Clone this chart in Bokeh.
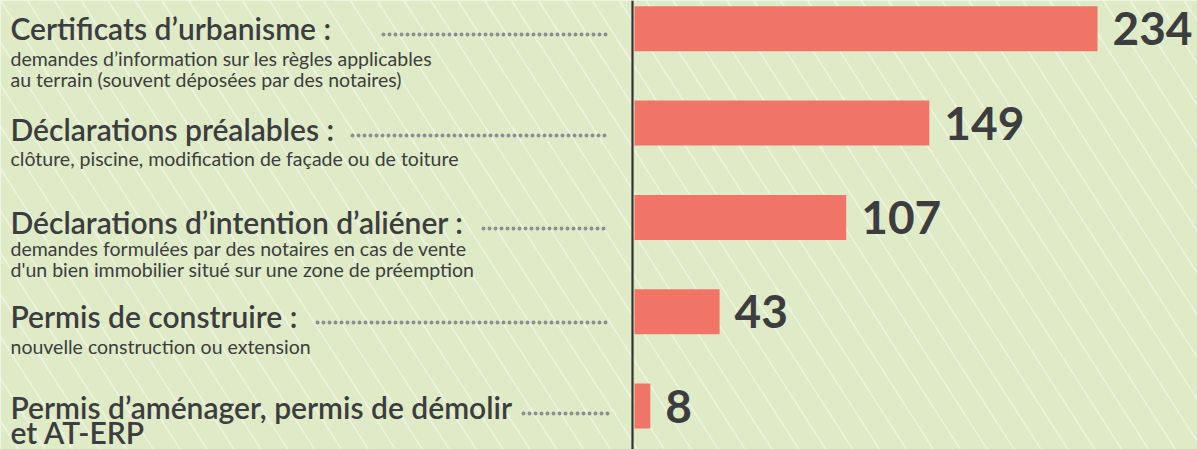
import numpy as np
from bokeh.plotting import figure
from bokeh.models import Range1d
from bokeh.embed import file_html
from bokeh.resources import INLINE
from bokeh.core.properties import value

# ---------------- data ----------------
categories = [
    "Certificats d’urbanisme :",
    "Déclarations préalables :",
    "Déclarations d’intention d’aliéner :",
    "Permis de construire :",
    "Permis d’aménager, permis de démolir\net AT-ERP",
]
descriptions = [
    "demandes d’information sur les règles applicables\nau terrain (souvent déposées par des notaires)",
    "clôture, piscine, modification de façade ou de toiture",
    "demandes formulées par des notaires en cas de vente\nd'un bien immobilier situé sur une zone de préemption",
    "nouvelle construction ou extension",
    "",
]
values = [234, 149, 107, 43, 8]

# ---------------- layout / style ----------------
W, H = 1197, 449
BG = "#dfebc7"
BAR = "#f07567"
INK = "#3d3c3e"
DOT = "#8d8e94"
FONT = "Lato"
HEAD_FONT = "'Lato Semibold', Lato"

zero_px = 634.0           # pixel of value 0
max_px = 1097.0           # pixel of the largest value
ppu = (max_px - zero_px) / max(values)
row0_px, row_step = 28.3, 94.3
bar_px = 45.0

head_base = [37, 138, 231, 325, 416]      # heading baselines (px from top)
head_line = 25
desc_base = [64, 164, 254, 352, None]
desc_line = 21
dot_start = [383, 352, 483, 317, 523]
dot_end = 608
text_x = 10
HEAD_SIZE, DESC_SIZE, NUM_SIZE = 30, 19.5, 46
BASE_FIX = 0.32            # renderer places alphabetic baseline this many em lower

idx = list(range(len(values)))

p = figure(
    width=W, height=H,
    x_range=Range1d(-zero_px / ppu, (W - zero_px) / ppu),
    y_range=Range1d((H - row0_px) / row_step, -row0_px / row_step),
    output_backend="svg", toolbar_location=None,
    x_axis_type=None, y_axis_type=None, min_border=0,
    background_fill_color=BG, border_fill_color=BG, outline_line_color=None,
)
p.grid.visible = False
p.extra_x_ranges = {"px": Range1d(0, W)}
p.extra_y_ranges = {"px": Range1d(H, 0)}

# background diagonal hatching
slope = 0.64
gap = 26.9
hx = np.arange(-12 * gap, W + gap, gap)
p.segment(x0=hx, y0=0, x1=hx + slope * H, y1=H, x_range_name="px", y_range_name="px",
          line_color="white", line_alpha=0.45, line_width=1.6)

# vertical axis line
p.segment(x0=[zero_px - 2], y0=[0], x1=[zero_px - 2], y1=[H], x_range_name="px", y_range_name="px",
          line_color="#333335", line_width=2.2)

# bars
p.hbar(y=idx, left=0, right=values, height=bar_px / row_step, fill_color=BAR, line_color=None)

# value labels
p.text(x=values, y=idx, text=[str(v) for v in values], x_offset=15,
       text_baseline="middle", text_align="left",
       text_font=value(FONT), text_font_style="bold", text_font_size=f"{NUM_SIZE}px", text_color=INK)

# headings
hx_, hy_, ht_ = [], [], []
for i, c in enumerate(categories):
    for j, line in enumerate(c.split("\n")):
        hx_.append(text_x); hy_.append(head_base[i] + j * head_line - BASE_FIX * HEAD_SIZE); ht_.append(line)
p.text(x=hx_, y=hy_, text=ht_, x_range_name="px", y_range_name="px",
       text_baseline="alphabetic", text_align="left",
       text_font=value(HEAD_FONT), text_font_size=f"{HEAD_SIZE}px", text_color=INK)

# descriptions
dx_, dy_, dt_ = [], [], []
for i, d in enumerate(descriptions):
    if not d:
        continue
    for j, line in enumerate(d.split("\n")):
        dx_.append(text_x); dy_.append(desc_base[i] + j * desc_line - BASE_FIX * DESC_SIZE); dt_.append(line)
p.text(x=dx_, y=dy_, text=dt_, x_range_name="px", y_range_name="px",
       text_baseline="alphabetic", text_align="left",
       text_font=value(FONT), text_font_size=f"{DESC_SIZE}px", text_color=INK)

# dotted leaders
p.segment(x0=dot_start, y0=[b - 3 for b in head_base], x1=[dot_end] * 5, y1=[b - 3 for b in head_base],
          x_range_name="px", y_range_name="px",
          line_color=DOT, line_width=4, line_dash="0 6", line_cap="round")

open("out.html", "w").write(file_html(p, INLINE))
